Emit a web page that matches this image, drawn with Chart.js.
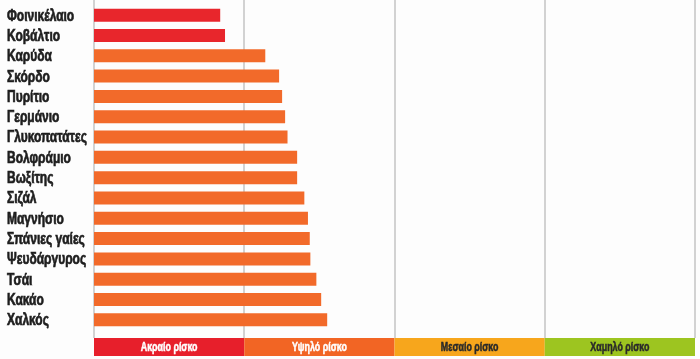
<!DOCTYPE html>
<html>
<head>
<meta charset="utf-8">
<script src="https://cdn.jsdelivr.net/npm/chart.js@4/dist/chart.umd.min.js"></script>
<style>
  html, body { margin: 0; padding: 0; background: #fdfdfd; }
  #wrap { width: 700px; height: 359px; }
</style>
</head>
<body>
<div id="wrap"><canvas id="riskChart" width="700" height="359"></canvas></div>
<script>
// commodities, top to bottom
const commodities = ['Φοινικέλαιο', 'Κοβάλτιο', 'Καρύδα', 'Σκόρδο', 'Πυρίτιο', 'Γερμάνιο',
  'Γλυκοπατάτες', 'Βολφράμιο', 'Βωξίτης', 'Σιζάλ', 'Μαγνήσιο', 'Σπάνιες γαίες',
  'Ψευδάργυρος', 'Τσάι', 'Κακάο', 'Χαλκός'];
// risk score (0 = most extreme, 100 = lowest)
const riskScore = [21.0, 21.8, 28.5, 30.8, 31.3, 31.8, 32.2, 33.8, 33.8, 35.0, 35.6, 35.9, 36.0, 37.0, 37.8, 38.8];

// bands along the bottom
const bandLabels = ['Ακραίο ρίσκο', 'Υψηλό ρίσκο', 'Μεσαίο ρίσκο', 'Χαμηλό ρίσκο'];
const bandEdges = [0, 25, 50, 75, 100];
const bandColors = ['#e71f2b', '#f26524', '#f7a61c', '#9dc520'];
const bandTextColors = ['#ffffff', '#ffffff', '#2a2a2a', '#2a2a2a'];

const barColors = riskScore.map(v => v < 25 ? '#e8262c' : '#f26a2a');

const labelFont = "'Liberation Sans', 'DejaVu Sans', sans-serif";
const narrow = 0.75; // horizontal squeeze, the original uses a condensed face

// grid lines, narrow category labels and the risk band under the plot
const bandPlugin = {
  id: 'bandPlugin',
  beforeDatasetsDraw(chart) {
    const ctx = chart.ctx;
    const x = chart.scales.x;
    ctx.save();
    ctx.strokeStyle = '#d2d2d2';
    ctx.lineWidth = 2;
    bandEdges.forEach(v => {
      const px = Math.round(x.getPixelForValue(v));
      ctx.beginPath();
      ctx.moveTo(px, 0);
      ctx.lineTo(px, 338);
      ctx.stroke();
    });
    ctx.restore();
  },
  afterDraw(chart) {
    const ctx = chart.ctx;
    const x = chart.scales.x;
    const y = chart.scales.y;

    ctx.save();
    ctx.font = "bold 16px " + labelFont;
    ctx.fillStyle = '#1e1e1e';
    ctx.strokeStyle = '#1e1e1e';
    ctx.lineWidth = 0.7;
    ctx.textAlign = 'left';
    ctx.textBaseline = 'middle';
    chart.data.labels.forEach((lab, i) => {
      ctx.save();
      ctx.translate(y.left, y.getPixelForTick(i) + 1);
      ctx.scale(narrow, 1);
      ctx.fillText(lab, 0, 0);
      ctx.strokeText(lab, 0, 0);
      ctx.restore();
    });

    ctx.font = "bold 12px " + labelFont;
    ctx.textAlign = 'center';
    ctx.lineWidth = 0.5;
    for (let i = 0; i < bandLabels.length; i++) {
      const x0 = x.getPixelForValue(bandEdges[i]);
      const x1 = x.getPixelForValue(bandEdges[i + 1]);
      ctx.fillStyle = bandColors[i];
      ctx.fillRect(x0, 338, x1 - x0, 18);
      ctx.fillStyle = bandTextColors[i];
      ctx.strokeStyle = bandTextColors[i];
      ctx.save();
      ctx.translate((x0 + x1) / 2, 347.5);
      ctx.scale(0.74, 1);
      ctx.fillText(bandLabels[i], 0, 0);
      ctx.strokeText(bandLabels[i], 0, 0);
      ctx.restore();
    }
    ctx.restore();
  }
};

const ctx = document.getElementById('riskChart').getContext('2d');

let chart = new Chart(ctx, {
  type: 'bar',
  data: {
    labels: commodities,
    datasets: [{
      data: riskScore,
      backgroundColor: barColors,
      borderWidth: 0,
      categoryPercentage: 1,
      barPercentage: 0.64
    }]
  },
  options: {
    indexAxis: 'y',
    responsive: false,
    animation: false,
    layout: { padding: { left: 7, right: 5, top: 5, bottom: 29 } },
    plugins: {
      legend: { display: false },
      tooltip: { enabled: false }
    },
    scales: {
      x: {
        display: false,
        min: 0,
        max: 100
      },
      y: {
        grid: { display: false },
        border: { display: false },
        afterFit(scale) { scale.width = 87; },
        ticks: { display: false }
      }
    }
  },
  plugins: [bandPlugin]
});
</script>
</body>
</html>
